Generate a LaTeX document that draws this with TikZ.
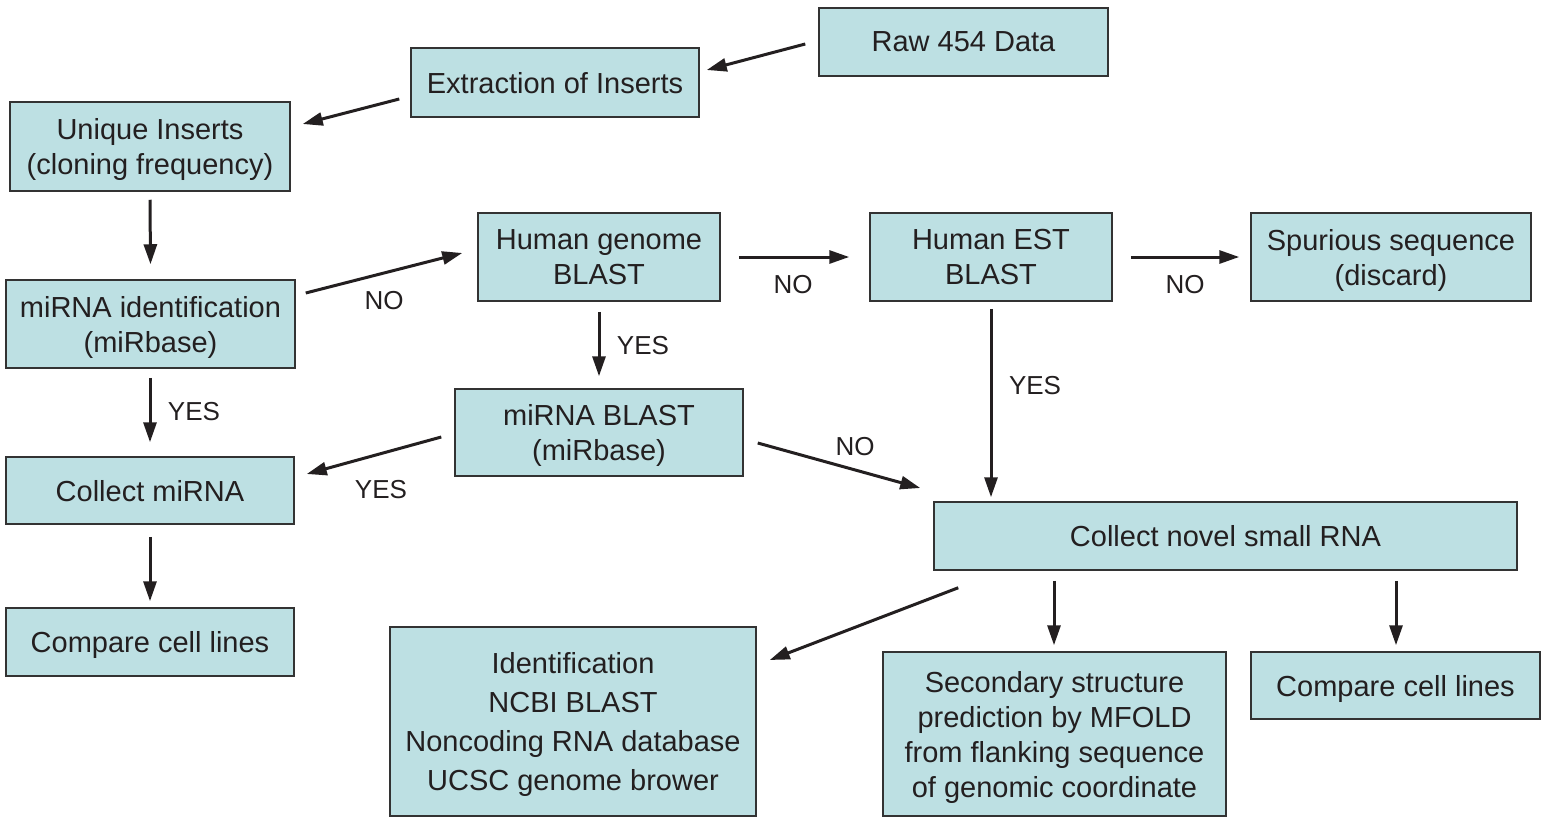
\documentclass[tikz,border=0pt]{standalone}
\usepackage{fontspec}
\setmainfont{Liberation Sans}
\usetikzlibrary{arrows.meta,calc}
\definecolor{boxfill}{HTML}{BDE0E3}
\definecolor{boxline}{HTML}{333333}
\definecolor{ink}{HTML}{231F20}
\begin{document}
\begin{tikzpicture}[x=1pt,y=-1pt,
  box/.style={draw=boxline,fill=boxfill,line width=1.5pt,inner sep=0pt,align=center,text=ink,
    text depth=0pt,font=\fontsize{29}{35}\selectfont},
  arr/.style={draw=ink,line width=3pt,-{Triangle[length=20pt,width=13pt]}},
  lab/.style={text=ink,font=\fontsize{26}{30}\selectfont,inner sep=0pt}]
\useasboundingbox (0,0) rectangle (1542,817);
\node[box,minimum width=289pt,minimum height=68pt] (raw) at (963.5,42) {Raw 454 Data};
\node[box,minimum width=288pt,minimum height=69pt] (ext) at (555,82.5) {Extraction of Inserts};
\node[box,minimum width=280pt,minimum height=89pt] (uni) at (150,146.5) {Unique Inserts\\(cloning frequency)};
\node[box,minimum width=289pt,minimum height=88pt] (mid) at (150.5,324) {miRNA identification\\(miRbase)};
\node[box,minimum width=242pt,minimum height=88pt] (hg) at (599,257) {Human genome\\BLAST};
\node[box,minimum width=242pt,minimum height=88pt] (est) at (991,257) {Human EST\\BLAST};
\node[box,minimum width=280pt,minimum height=88pt] (spu) at (1391,257) {Spurious sequence\\(discard)};
\node[box,minimum width=288pt,minimum height=87pt] (mb) at (599,432.5) {miRNA BLAST\\(miRbase)};
\node[box,minimum width=288pt,minimum height=67pt] (cm) at (150,490.5) {Collect miRNA};
\node[box,minimum width=583pt,minimum height=68pt] (nov) at (1225.5,536) {Collect novel small RNA};
\node[box,minimum width=288pt,minimum height=68pt] (ccl) at (150,642) {Compare cell lines};
\node[box,minimum width=366pt,minimum height=189pt,font=\fontsize{29}{39}\selectfont] (idn) at (573,721.5) {Identification\\NCBI BLAST\\Noncoding RNA database\\UCSC genome brower};
\node[box,minimum width=343pt,minimum height=164pt] (sec) at (1054.5,734) {Secondary structure\\prediction by MFOLD\\from flanking sequence\\of genomic coordinate};
\node[box,minimum width=289pt,minimum height=67pt] (ccr) at (1395.5,685.5) {Compare cell lines};

\draw[arr] ($(raw.west)+(-13,2)$) -- ($(ext.east)+(7,-12.5)$);
\draw[arr] ($(ext.west)+(-11,16.5)$) -- ($(uni.east)+(12,-22.5)$);
\draw[arr] ($(uni.south)+(0,8)$) -- ($(mid.north)+(0,-15)$);
\draw[arr] ($(mid.east)+(10,-31)$) -- ($(hg.west)+(-15,-4)$);
\draw[arr] ($(hg.east)+(18,0)$) -- ($(est.west)+(-20,0)$);
\draw[arr] ($(est.east)+(18,0)$) -- ($(spu.west)+(-11,0)$);
\draw[arr] ($(hg.south)+(0,10)$) -- ($(mb.north)+(0,-12)$);
\draw[arr] ($(mid.south)+(-0.5,9)$) -- ($(cm.north)+(0,-14)$);
\draw[arr] ($(mb.west)+(-13,4.5)$) -- ($(cm.east)+(12,-16.5)$);
\draw[arr] ($(mb.east)+(14,10.5)$) -- ($(nov.west)+(-13,-48)$);
\draw[arr] ($(est.south)+(0,7)$) -- ($(nov.north)+(-234.5,-4)$);
\draw[arr] ($(cm.south)+(0,12)$) -- ($(ccl.north)+(0,-6)$);
\draw[arr] ($(nov.south west)+(25,17)$) -- ($(idn.east)+(13,-61.5)$);
\draw[arr] ($(nov.south)+(-171.5,10)$) -- ($(sec.north)+(-0.5,-6)$);
\draw[arr] ($(nov.south)+(170.5,10)$) -- ($(ccr.north)+(0.5,-6)$);

\node[lab] (l1) at (384,301) {NO};
\node[lab] (l2) at (793,285) {NO};
\node[lab] (l3) at (1185,285) {NO};
\node[lab] (l4) at (643,346) {YES};
\node[lab] (l5) at (194,412) {YES};
\node[lab] (l6) at (381,490) {YES};
\node[lab] (l7) at (855,447) {NO};
\node[lab] (l8) at (1035,386) {YES};
\end{tikzpicture}
\end{document}
